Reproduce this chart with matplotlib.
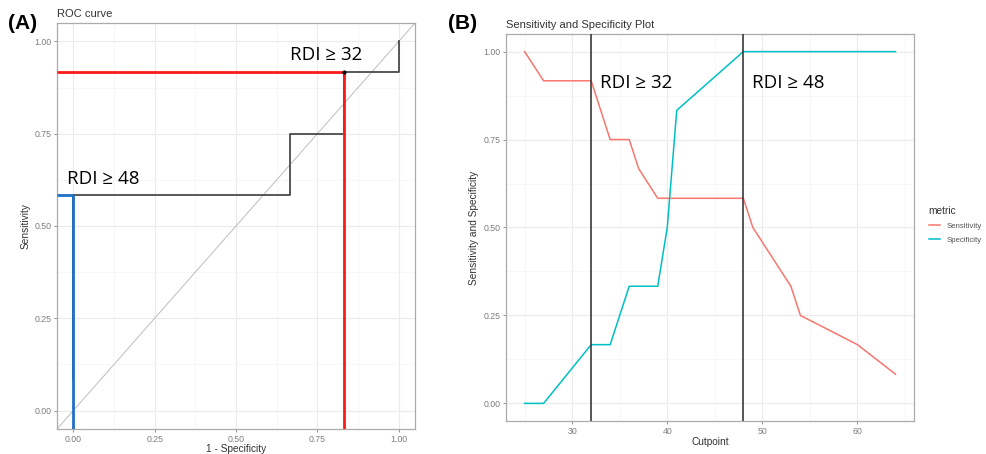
import matplotlib
matplotlib.use("Agg")
import matplotlib.pyplot as plt
import numpy as np

# ---- data ----
cutpoints   = [25, 27, 32, 34, 36, 37, 39, 40, 41, 48, 49, 53, 54, 60, 64]
sensitivity = [1.0, 0.917, 0.917, 0.75, 0.75, 0.667, 0.583, 0.583, 0.583, 0.583, 0.5, 0.333, 0.25, 0.167, 0.083]
specificity = [0.0, 0.0, 0.167, 0.167, 0.333, 0.333, 0.333, 0.5, 0.833, 1.0, 1.0, 1.0, 1.0, 1.0, 1.0]
chosen_cuts = [32, 48]
cut_labels  = ["RDI \u2265 32", "RDI \u2265 48"]
metric_names = ["Sensitivity", "Specificity"]
roc_ticks = [0.00, 0.25, 0.50, 0.75, 1.00]
cut_ticks = [30, 40, 50, 60]

plt.rcParams['font.family'] = ['Liberation Sans', 'DejaVu Sans']
ann_font = ['Open Sans', 'DejaVu Sans']

fig = plt.figure(figsize=(9.87, 4.54), dpi=100)

GRID_MAJ = '#EBEBEB'
GRID_MIN = '#F4F4F4'
BORDER = '#ABABAB'
TICKC = '#7C7C7C'

def gg_style(ax, xminor, yminor):
    ax.set_facecolor('white')
    for s in ax.spines.values():
        s.set_color(BORDER)
        s.set_linewidth(0.9)
    ax.set_xticks(xminor, minor=True)
    ax.set_yticks(yminor, minor=True)
    ax.grid(which='major', color=GRID_MAJ, linewidth=0.8)
    ax.grid(which='minor', color=GRID_MIN, linewidth=0.5)
    ax.set_axisbelow(True)
    ax.tick_params(which='major', length=2.5, width=0.6, color=TICKC, labelsize=6.3,
                   labelcolor=TICKC, pad=1.5)
    ax.tick_params(which='minor', length=0)

sens = np.array(sensitivity)
spec = np.array(specificity)
fpr = 1 - spec
cuts = np.array(cutpoints)

# ---- Panel A: ROC ----
axA = fig.add_axes([0.0578, 0.0551, 0.3627, 0.8943])
gg_style(axA, [-0.125 + 0.25 * i for i in range(1, 5)], [0.125, 0.375, 0.625, 0.875])
axA.set_xlim(-0.05, 1.05)
axA.set_ylim(-0.05, 1.05)
axA.axline((0, 0), (1, 1), color='#BDBDBD', linewidth=0.7, zorder=1)
axA.plot(fpr, sens, color='#4A4A4A', linewidth=1.3, zorder=2)

hl_colors = ['#FF1A1A', '#1F70C8']
for c, col in zip(chosen_cuts, hl_colors):
    i = int(np.where(cuts == c)[0][0])
    axA.plot([-0.05, fpr[i]], [sens[i], sens[i]], color=col, linewidth=2.0, zorder=3,
             solid_capstyle='butt')
    axA.plot([fpr[i], fpr[i]], [-0.05, sens[i]], color=col, linewidth=2.0, zorder=3,
             solid_capstyle='butt')
i32 = int(np.where(cuts == chosen_cuts[0])[0][0])
axA.plot([fpr[i32]], [sens[i32]], 'o', color='black', markersize=2, zorder=4)

axA.text(0.665, 0.962, cut_labels[0], fontsize=13.5, family=ann_font, va='center', ha='left')
axA.text(-0.02, 0.628, cut_labels[1], fontsize=13.5, family=ann_font, va='center', ha='left')

axA.set_xticks(roc_ticks)
axA.set_yticks(roc_ticks)
axA.set_xticklabels([f"{t:.2f}" for t in roc_ticks])
axA.set_yticklabels([f"{t:.2f}" for t in roc_ticks])
axA.set_xlabel("1 - Specificity", fontsize=7.3, color='#333333', labelpad=0)
axA.set_ylabel("Sensitivity", fontsize=7.3, color='#333333', labelpad=3)
axA.set_title("ROC curve", fontsize=8, color='#333333', loc='left', pad=4)

# ---- Panel B: Sensitivity & Specificity ----
axB = fig.add_axes([0.5127, 0.0727, 0.4134, 0.8524])
gg_style(axB, [25, 35, 45, 55, 65], [0.125, 0.375, 0.625, 0.875])
axB.set_xlim(23.05, 65.95)
axB.set_ylim(-0.05, 1.05)
l1, = axB.plot(cuts, sens, color='#F8766D', linewidth=1.1, label=metric_names[0], zorder=2)
l2, = axB.plot(cuts, spec, color='#00BFC4', linewidth=1.1, label=metric_names[1], zorder=2)
for c, lab in zip(chosen_cuts, cut_labels):
    axB.axvline(c, color='#3A3A3A', linewidth=1.2, zorder=3)
    axB.text(c + 0.95, 0.912, lab, fontsize=13.5, family=ann_font, va='center', ha='left')
axB.set_xticks(cut_ticks)
axB.set_yticks(roc_ticks)
axB.set_yticklabels([f"{t:.2f}" for t in roc_ticks])
axB.set_xlabel("Cutpoint", fontsize=7.3, color='#333333', labelpad=1)
axB.set_ylabel("Sensitivity and Specificity", fontsize=7.3, color='#333333', labelpad=3)
axB.set_title("Sensitivity and Specificity Plot", fontsize=8, color='#333333', loc='left', pad=4)

leg = axB.legend(handles=[l1, l2], title="metric", loc='upper left',
                 bbox_to_anchor=(0.937, 0.555), bbox_transform=fig.transFigure,
                 frameon=False, fontsize=5.6, title_fontsize=7.3, handlelength=1.5,
                 handletextpad=0.8, labelspacing=0.85, alignment='left', borderpad=0)
for t in leg.get_texts():
    t.set_color('#555555')
leg.get_title().set_color('#333333')

fig.text(0.008, 0.949, "(A)", fontsize=15, fontweight='bold', va='center', ha='left')
fig.text(0.454, 0.949, "(B)", fontsize=15, fontweight='bold', va='center', ha='left')

fig.savefig("out.png", dpi=100)
